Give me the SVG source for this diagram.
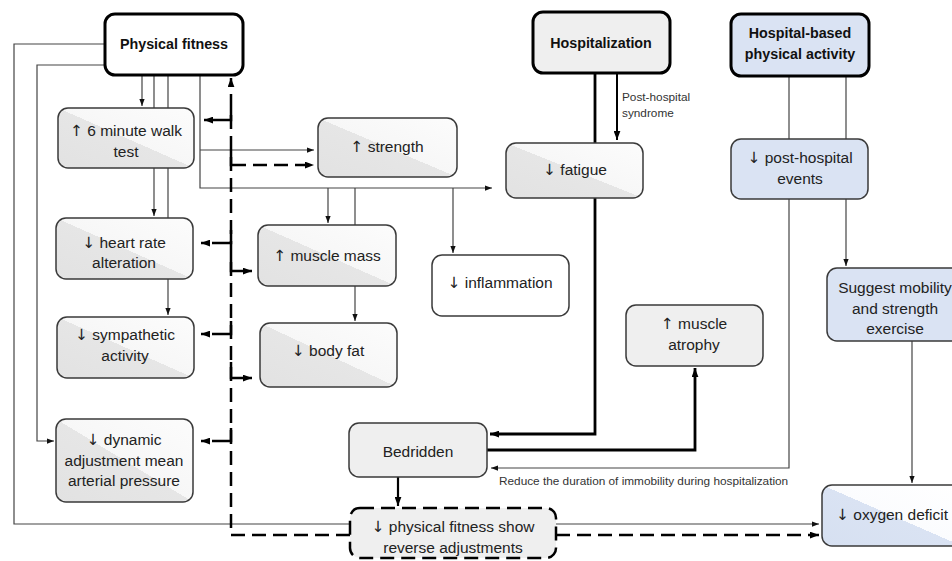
<svg xmlns="http://www.w3.org/2000/svg" width="952" height="561" viewBox="0 0 952 561">
<defs>
<linearGradient id="gGray" x1="0" y1="1" x2="1" y2="0">
<stop offset="0" stop-color="#e2e2e2"/><stop offset="0.5" stop-color="#e6e6e6"/><stop offset="0.5" stop-color="#f7f7f7"/><stop offset="1" stop-color="#fcfcfc"/>
</linearGradient>
<linearGradient id="gBlue" x1="0" y1="1" x2="1" y2="0">
<stop offset="0" stop-color="#d6e0f1"/><stop offset="0.5" stop-color="#dae3f3"/><stop offset="0.5" stop-color="#fbfcfe"/><stop offset="1" stop-color="#ffffff"/>
</linearGradient>
<marker id="ah" viewBox="0 0 8 6" refX="8" refY="3" markerWidth="7" markerHeight="6" markerUnits="userSpaceOnUse" orient="auto"><path d="M0,0 L8,3 L0,6 z" fill="#111"/></marker>
<marker id="ahb" viewBox="0 0 8 6" refX="8" refY="3" markerWidth="9" markerHeight="7" markerUnits="userSpaceOnUse" orient="auto"><path d="M0,0 L8,3 L0,6 z" fill="#000"/></marker>
<style>
.box{stroke:#3a3a3a;stroke-width:1.5}
.split{fill:url(#gGray)}
.splitb{fill:url(#gBlue)}
.plain{fill:#ffffff}
.lg{fill:#efefef}
.lb{fill:#dae3f3}
.title{stroke:#000;stroke-width:3}
.t{font-family:"Liberation Sans",Arial,sans-serif;font-size:15.5px;fill:#222;text-anchor:middle}
.tb{font-family:"Liberation Sans",Arial,sans-serif;font-size:14.3px;font-weight:bold;fill:#111;text-anchor:middle}
.s{font-family:"Liberation Sans",Arial,sans-serif;font-size:11.8px;fill:#333}
.ar{font-family:"DejaVu Sans",sans-serif;fill:#222}
.thin{fill:none;stroke:#444;stroke-width:1.2}
.thick{fill:none;stroke:#000;stroke-width:2.8}
.dash{fill:none;stroke:#000;stroke-width:2.5;stroke-dasharray:14 7}
.sol{fill:none;stroke:#000;stroke-width:2.5}
</style>
</defs>
<rect width="952" height="561" fill="#fff"/>
<g id="connectors">
<path class="thin" d="M105,44 H14 V524 H350"/>
<path class="thin" d="M105,65 H37 V441 H54" marker-end="url(#ah)"/>
<path class="thin" d="M142,75 V106" marker-end="url(#ah)"/>
<path class="thin" d="M154,75 V216" marker-end="url(#ah)"/>
<path class="thin" d="M168,75 V315" marker-end="url(#ah)"/>
<path class="thin" d="M200,75 V188 H492" marker-end="url(#ah)"/>
<path class="thin" d="M200,150 H314" marker-end="url(#ah)"/>
<path class="thin" d="M328,188 V223" marker-end="url(#ah)"/>
<path class="thin" d="M355,188 V321" marker-end="url(#ah)"/>
<path class="thin" d="M453,188 V253" marker-end="url(#ah)"/>
<path class="thick" d="M595,73 V434 H490" marker-end="url(#ahb)"/>
<path class="thick" style="stroke-width:2" d="M617,73 V140" marker-end="url(#ahb)"/>
<path class="thick" d="M487,450 H695 V368" marker-end="url(#ahb)"/>
<path class="thin" d="M789,76 V468 H491" marker-end="url(#ah)"/>
<path class="thin" d="M846,76 V266" marker-end="url(#ah)"/>
<path class="thin" d="M912,341 V483" marker-end="url(#ah)"/>
<path class="thick" style="stroke-width:2.2" d="M398,477 V506" marker-end="url(#ahb)"/>
<path class="thin" d="M556,524 H819" marker-end="url(#ah)"/>
<path class="dash" d="M556,535 H819" marker-end="url(#ahb)"/>
<path class="dash" d="M350,535 H231 V78" marker-end="url(#ahb)"/>
<path class="sol" d="M231,108 V120 H212"/>
<path class="sol" d="M210,120 H204" marker-end="url(#ahb)"/>
<path class="sol" d="M231,150 V165 H246"/>
<path class="dash" d="M253,165 H314" marker-end="url(#ahb)"/>
<path class="sol" d="M231,230 V243 H212"/>
<path class="sol" d="M209,243 H201" marker-end="url(#ahb)"/>
<path class="sol" d="M231,255 V271 H252" marker-end="url(#ahb)"/>
<path class="sol" d="M231,321 V334 H212"/>
<path class="sol" d="M209,334 H201" marker-end="url(#ahb)"/>
<path class="sol" d="M231,362 V378 H252" marker-end="url(#ahb)"/>
<path class="sol" d="M231,428 V441 H212"/>
<path class="sol" d="M209,441 H201" marker-end="url(#ahb)"/>
<text class="s" x="622" y="101">Post-hospital</text>
<text class="s" x="622" y="117">syndrome</text>
<text class="s" x="499" y="485">Reduce the duration of immobility during hospitalization</text>
</g>
<g id="physical-fitness"><rect class="box title plain" x="105" y="14" width="138" height="61" rx="10"/><text class="tb" x="174" y="49">Physical fitness</text></g>
<g id="hospitalization"><rect class="box title lg" x="533" y="12" width="137" height="61" rx="10"/><text class="tb" x="601" y="48">Hospitalization</text></g>
<g id="hospital-based"><rect class="box title lb" x="731" y="14" width="138" height="62" rx="10"/><text class="tb" x="800" y="38">Hospital-based</text><text class="tb" x="800" y="59">physical activity</text></g>
<g id="walk"><rect class="box split" x="58" y="108" width="136" height="60" rx="10"/><text class="t" x="126" y="136"><tspan class="ar">↑</tspan> 6 minute walk</text><text class="t" x="126" y="157">test</text></g>
<g id="strength"><rect class="box split" x="318" y="118" width="139" height="59" rx="10"/><text class="t" x="387" y="152"><tspan class="ar">↑</tspan> strength</text></g>
<g id="fatigue"><rect class="box split" x="506" y="143" width="137" height="55" rx="10"/><text class="t" x="575" y="175"><tspan class="ar">↓</tspan> fatigue</text></g>
<g id="post-hospital-events"><rect class="box lb" x="731" y="139" width="137" height="60" rx="10"/><text class="t" x="800" y="163"><tspan class="ar">↓</tspan> post-hospital</text><text class="t" x="800" y="184">events</text></g>
<g id="heart-rate"><rect class="box split" x="56" y="218" width="137" height="61" rx="10"/><text class="t" x="124" y="248"><tspan class="ar">↓</tspan> heart rate</text><text class="t" x="124" y="268">alteration</text></g>
<g id="muscle-mass"><rect class="box split" x="258" y="225" width="138" height="61" rx="10"/><text class="t" x="327" y="261"><tspan class="ar">↑</tspan> muscle mass</text></g>
<g id="inflammation"><rect class="box plain" x="432" y="255" width="137" height="61" rx="10"/><text class="t" x="500" y="288"><tspan class="ar">↓</tspan> inflammation</text></g>
<g id="sympathetic"><rect class="box split" x="57" y="317" width="137" height="61" rx="10"/><text class="t" x="125" y="340"><tspan class="ar">↓</tspan> sympathetic</text><text class="t" x="125" y="361">activity</text></g>
<g id="body-fat"><rect class="box split" x="260" y="323" width="137" height="64" rx="10"/><text class="t" x="328" y="356"><tspan class="ar">↓</tspan>  body fat</text></g>
<g id="muscle-atrophy"><rect class="box lg" x="626" y="305" width="137" height="61" rx="10"/><text class="t" x="694" y="329"><tspan class="ar">↑</tspan> muscle</text><text class="t" x="694" y="350">atrophy</text></g>
<g id="suggest"><rect class="box lb" x="827" y="268" width="140" height="73" rx="10"/><text class="t" x="895" y="293">Suggest mobility</text><text class="t" x="895" y="314">and strength</text><text class="t" x="895" y="334">exercise</text></g>
<g id="dynamic"><rect class="box split" x="56" y="419" width="137" height="83" rx="10"/><text class="t" x="124" y="445"><tspan class="ar">↓</tspan> dynamic</text><text class="t" x="124" y="466">adjustment mean</text><text class="t" x="124" y="486">arterial pressure</text></g>
<g id="bedridden"><rect class="box lg" x="349" y="423" width="138" height="54" rx="10"/><text class="t" x="418" y="457">Bedridden</text></g>
<g id="reverse"><rect class="box lg" style="stroke:#000;stroke-width:2.5;stroke-dasharray:14 7" x="350" y="508" width="206" height="50" rx="10"/><text class="t" x="453" y="532"><tspan class="ar">↓</tspan> physical fitness show</text><text class="t" x="453" y="553">reverse adjustments</text></g>
<g id="oxygen"><rect class="box splitb" x="822" y="485" width="140" height="61" rx="10"/><text class="t" x="892" y="520"><tspan class="ar">↓</tspan> oxygen deficit</text></g>
</svg>
